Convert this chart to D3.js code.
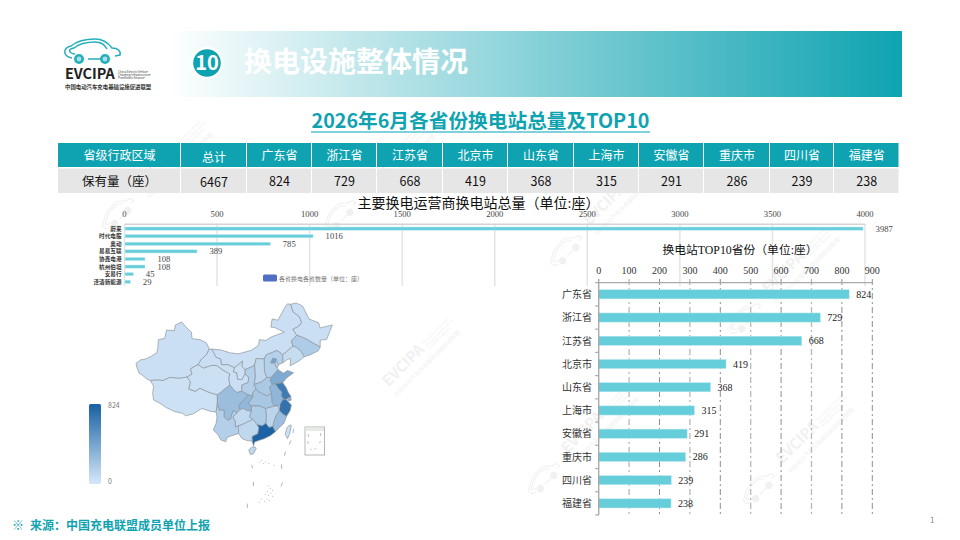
<!DOCTYPE html>
<html lang="zh-CN">
<head>
<meta charset="UTF-8">
<title>换电设施整体情况</title>
<script src="https://d3js.org/d3.v7.min.js"></script>
<style>
  html, body { margin: 0; background: #fff; }
  svg { display: block; }
  text { font-family: "Noto Sans CJK SC", "Noto Sans", sans-serif; }
  .num { font-family: "Liberation Serif", "Noto Sans CJK SC", serif; }
</style>
</head>
<body>
<script>
// 表格
const tableHeads = ["省级行政区域", "总计", "广东省", "浙江省", "江苏省", "北京市", "山东省", "上海市", "安徽省", "重庆市", "四川省", "福建省"];
const tableValues = ["保有量（座）", "6467", "824", "729", "668", "419", "368", "315", "291", "286", "239", "238"];

// 运营商
const operators = ["蔚来", "时代电服", "奥动", "易易互联", "协鑫电港", "杭州伯坦", "安易行", "泽清新能源"];
const operatorValues = [3987, 1016, 785, 389, 108, 108, 45, 29];
const operatorTicks = [0, 500, 1000, 1500, 2000, 2500, 3000, 3500, 4000];

// TOP10
const topProvinces = ["广东省", "浙江省", "江苏省", "北京市", "山东省", "上海市", "安徽省", "重庆市", "四川省", "福建省"];
const topValues = [824, 729, 668, 419, 368, 315, 291, 286, 239, 238];
const topTicks = [0, 100, 200, 300, 400, 500, 600, 700, 800, 900];

// 地图：各省粗略轮廓（经度, 纬度）和数值
const mapNames = ["新疆", "西藏", "青海", "甘肃", "内蒙古", "黑龙江", "吉林", "辽宁", "河北", "北京", "天津", "山西", "陕西", "宁夏", "山东", "河南", "江苏", "安徽", "上海", "浙江", "福建", "江西", "湖北", "湖南", "广东", "广西", "海南", "重庆", "四川", "贵州", "云南", "台湾"];
const mapValues = [25, 15, 20, 25, 25, 25, 150, 40, 120, 419, 90, 70, 130, 20, 368, 170, 668, 291, 315, 729, 238, 90, 180, 150, 824, 70, 70, 286, 239, 60, 130, 10];
const mapShapes = [
  [[73.5,39.5],[75,40.3],[76.5,40.5],[78.5,41.2],[80,42],[80.3,43],[80.5,45],[82.5,45.3],[83,47.2],[85.5,47.1],[85.8,48.4],[87.8,49.1],[89,48],[90.8,46.7],[91,45.2],[93.5,45],[95.5,44.2],[96.4,42.8],[95.5,41.5],[94,40.5],[92.9,39.2],[90.5,38.2],[91,37],[89.5,36.3],[87,36],[84,36.2],[82,35.5],[80.2,35.6],[78,35.5],[77,35.8],[75.5,36.7],[74.5,37.2],[73.8,38.5]],
  [[78,35.5],[80.2,35.6],[82,35.5],[84,36.2],[87,36],[89.5,36.3],[90.5,35.2],[90,33.5],[92,33],[93.5,33.7],[95.5,33],[97.3,32.5],[98.9,32.2],[98.9,30],[98.5,28.2],[97,28.3],[94,29],[91.5,27.8],[89,27.3],[88,27.9],[85.5,28.3],[83,29.2],[81,30.2],[79,31],[78.7,32.5],[79,34.2]],
  [[89.5,36.3],[91,37],[90.5,38.2],[92.9,39.2],[94.5,38.4],[97,39],[98.7,39],[100.5,38],[102.8,37],[102.5,36],[102.8,34.4],[101,33.4],[100,32.7],[98.9,32.2],[97.3,32.5],[95.5,33],[93.5,33.7],[92,33],[90,33.5],[90.5,35.2]],
  [[96.4,42.8],[97.2,42.8],[98.5,40.9],[100,40.5],[100.2,39.2],[102.2,39.2],[104.3,38.5],[103.9,37.5],[105,37.3],[105.2,35.8],[106.5,35.7],[107.5,37],[108.7,36.3],[108.5,35],[106.6,34.5],[106.5,33],[105,32.7],[103.8,33.5],[102.8,34.4],[102.5,36],[102.8,37],[100.5,38],[98.7,39],[97,39],[94.5,38.4],[92.9,39.2],[94,40.5],[95.5,41.5]],
  [[97.2,42.8],[100,42.6],[103,41.9],[105.5,41.7],[109.5,42.5],[111.8,43.7],[112,45],[114,44.8],[116,45.7],[119.8,46.7],[116.8,47.8],[115.6,47.9],[116,49.8],[117.8,49.5],[120,52.5],[120.8,53.3],[121.8,53.2],[122.5,51.5],[124.5,50.3],[125.2,49],[124.5,48.2],[122.5,47.4],[123.7,46],[122,44.7],[122.5,43.5],[120.5,42.2],[119.3,41.5],[117.5,42.5],[116,42],[114.2,41.5],[113.5,40.5],[111,40.6],[110.5,39],[107.5,38],[106.5,38.8],[106.8,40],[104.3,38.5],[102.2,39.2],[100.2,39.2],[100,40.5],[98.5,40.9]],
  [[121.8,53.2],[123.5,53.5],[125.5,52.8],[127.5,49.8],[130.5,48.9],[131,47.7],[134.8,48.4],[133,45],[131,44.9],[131,43.3],[128.5,44.3],[127,45],[125.5,45.5],[123.7,46],[122.5,47.4],[124.5,48.2],[125.2,49],[124.5,50.3],[122.5,51.5]],
  [[123.7,46],[125.5,45.5],[127,45],[128.5,44.3],[131,43.3],[130.4,42.4],[128,41.5],[126,41],[125,42.3],[123.5,43.2],[122.5,43.5],[122,44.7]],
  [[119.3,41.5],[120.5,42.2],[122.5,43.5],[123.5,43.2],[125,42.3],[126,41],[124.3,40],[121.6,38.9],[121.8,40.6],[120.8,40.4],[119.3,39.6]],
  [[113.5,40.5],[114.2,41.5],[116,42],[117.5,42.5],[119.3,41.5],[119.3,39.6],[118,39.2],[117.6,38.6],[117.8,38],[115.7,36.2],[114.3,36.2],[113.6,37.5]],
  [[115.5,39.6],[116.2,40.7],[117.4,40.5],[117,39.7],[116.3,39.5]],
  [[117,39.7],[117.4,40.1],[118,39.2],[117.6,38.6],[117,38.8]],
  [[113.5,40.5],[113.6,37.5],[114.3,36.2],[112.8,35.2],[110.4,34.6],[110.7,36.5],[110.5,39],[111,40.6]],
  [[110.5,39],[110.7,36.5],[110.4,34.6],[111,33.5],[110,32.8],[110,31.8],[108.5,32.2],[106.5,33],[106.6,34.5],[108.5,35],[108.7,36.3],[107.5,37],[107.5,38]],
  [[104.3,38.5],[106.8,40],[106.5,38.8],[107.5,38],[107.5,37],[106.5,35.7],[105.2,35.8],[105,37.3],[103.9,37.5]],
  [[115.7,36.2],[117.8,38],[119,37.5],[119.5,37.2],[120.8,37.8],[122.7,37.3],[120.5,36.1],[119.3,35],[117,34.7],[116,34.6],[115.3,35.5]],
  [[114.3,36.2],[115.7,36.2],[115.3,35.5],[116,34.6],[115.2,33.9],[115.8,32.5],[114.5,31.9],[113,32.4],[111.5,33],[111,33.5],[110.4,34.6],[112.8,35.2]],
  [[117,34.7],[119.3,35],[120.4,33.8],[121,32.8],[121.9,31.7],[120.5,31.1],[119.5,31.2],[118.8,32],[119,32.8],[118,33.6]],
  [[116,34.6],[117,34.7],[118,33.6],[119,32.8],[118.8,32],[119.5,31.2],[118.5,30],[118,29.6],[116.7,29.6],[115.9,30.5],[115.8,32.5],[115.2,33.9]],
  [[120.9,31.6],[121.9,31.5],[121.9,30.9],[121,30.8]],
  [[118.5,30],[119.5,31.2],[120.5,31],[121,30.6],[122,29.8],[121.6,28.5],[120.5,27.2],[119.5,27.6],[118.2,28.5]],
  [[118.2,28.5],[119.5,27.6],[120.5,27.2],[119.7,25.6],[118.2,24.5],[117,23.6],[116.2,24.8],[116.6,26.2],[117.3,27.5]],
  [[113.9,29],[116.7,29.6],[118,29.6],[118.2,28.5],[117.3,27.5],[116.6,26.2],[116.2,24.8],[115,24.6],[114,25.6],[114.2,27.2]],
  [[110,31.8],[110,32.8],[111,33.5],[111.5,33],[113,32.4],[114.5,31.9],[115.8,32.5],[115.9,30.5],[116.7,29.6],[113.9,29],[112,29.6],[109.5,29.6],[108.5,30.2],[109.5,31.2]],
  [[109.5,29.6],[112,29.6],[113.9,29],[114.2,27.2],[114,25.6],[113,25],[111.3,25.2],[110,26.5],[108.9,27],[109.5,28.4]],
  [[110.2,25.7],[111.3,25.2],[113,25],[114,25.6],[115,24.6],[116.2,24.8],[117,23.6],[115.5,22.7],[113.5,22],[111.5,21.5],[110.5,21.2],[110.2,20.3],[109.8,21.4],[109.7,22.5],[111.5,23.2],[111.8,24.6]],
  [[104.5,24.7],[105.5,25],[106.6,25.3],[108,25.8],[110,26.5],[111.3,25.2],[111.8,24.6],[111.5,23.2],[109.7,22.5],[109.8,21.4],[108,21.6],[106.6,22],[105.5,23.2]],
  [[108.7,19.4],[109.2,18.3],[110.2,18.5],[111,19.7],[110.6,20.1],[109.6,20]],
  [[105.5,29.3],[106,30.2],[107,30.8],[108.5,32.2],[110,31.8],[109.5,31.2],[108.5,30.2],[109.5,29.6],[109.5,28.4],[108.2,28.5],[107,29],[106,28.7]],
  [[98.9,32.2],[100,32.7],[101,33.4],[102.8,34.4],[103.8,33.5],[105,32.7],[106.5,33],[108.5,32.2],[107,30.8],[106,30.2],[105.5,29.3],[106,28.7],[105,28],[103.8,28.5],[103,26.5],[102,26.3],[101,27],[101,28.6],[99.5,28.6],[98.9,30]],
  [[103.7,27],[105,28],[106,28.7],[107,29],[108.2,28.5],[109.5,28.4],[108.9,27],[110,26.5],[108,25.8],[106.6,25.3],[105.5,25],[104.5,24.7],[104.5,26]],
  [[98.5,28.2],[98.9,30],[99.5,28.6],[101,28.6],[101,27],[102,26.3],[103,26.5],[103.8,28.5],[105,28],[103.7,27],[104.5,26],[104.5,24.7],[105.5,25],[105.5,23.2],[103.5,22.7],[102,22.3],[101.5,21.3],[100,21.7],[99,23],[97.6,24],[98.5,25.5],[98.8,27]],
  [[121.5,25.2],[122,25],[121.4,23],[120.8,22],[120.1,23],[120.6,24.5]]
];
// 南海断续线和岛礁
const seaDashes = [
  [[109.6,15.9],[109.9,15.1]], [[118.9,16],[119,15]], [[110.2,12],[110.1,11]], [[119.2,11.8],[118.8,10.9]],
  [[108.2,6.9],[108.3,5.9]], [[120.2,19],[119.8,18]], [[121.9,21.6],[121.3,20.6]], [[122.7,24.3],[122.5,23.3]]
];
const seaDots = [[112,16.5],[112.6,17],[113.2,16.3],[114,16.6],[115,16.2],[116.6,15.8],[114.8,11],[115.4,10.5],[116.1,10],[114.5,9.8],[115.6,9.3],[113.9,9],[114.9,8.8],[116.2,8.6],[112,7.2],[112.7,8],[113.6,7.4],[114.4,8],[115.2,7.6]];

const width = 960, height = 540;
const teal = "#0fa3b1", barColor = "#66ceda";
const carD = "M-20,7 C-30,5 -29,-3 -21,-5 C-15,-10 -6,-12 3,-12 C12,-12 17,-7 20,-3 C26,-3 29,0 28,4 L23,5 M-17,3 C-24,2 -24,-2 -18,-3 C-12,-8 -5,-9 3,-9 C9,-9 13,-6 15,-2 M-4,8 H10";

const svg = d3.select("body").append("svg")
  .attr("width", width).attr("height", height)
  .attr("viewBox", [0, 0, width, height]);

const defs = svg.append("defs");
const bandGrad = defs.append("linearGradient").attr("id", "bandGrad");
bandGrad.append("stop").attr("offset", "0").attr("stop-color", "#fff");
bandGrad.append("stop").attr("offset", "1").attr("stop-color", teal);
const legendGrad = defs.append("linearGradient").attr("id", "legendGrad")
  .attr("x1", 0).attr("x2", 0).attr("y1", 0).attr("y2", 1);
legendGrad.append("stop").attr("offset", "0").attr("stop-color", "#1c63a6");
legendGrad.append("stop").attr("offset", "1").attr("stop-color", "#d2e5f6");

// 水印
const wmColor = "#f1f1f1";
function watermark(x, y) {
  const g = svg.append("g").attr("transform", `translate(${x},${y}) rotate(-45)`).attr("fill", wmColor);
  g.append("text").attr("text-anchor", "middle").attr("y", 5.5).attr("font-size", 15).attr("font-weight", 700).text("EVCIPA");
  g.append("text").attr("text-anchor", "middle").attr("x", 18).attr("y", 18).attr("font-size", 5.7).text("中国电动汽车充电基础设施促进联盟");
  ["China Electric Vehicle", "Charging Infrastructure", "Promotion Alliance"].forEach((t, i) => {
    g.append("text").attr("x", 29).attr("y", 0 + i * 4).attr("font-size", 3.5).text(t);
  });
  const car = g.append("g").attr("transform", "translate(-60,5) scale(0.72)");
  car.append("path").attr("d", carD).attr("fill", "none").attr("stroke", wmColor).attr("stroke-width", 1.6);
  car.append("circle").attr("cx", -13).attr("cy", 8).attr("r", 5).attr("fill", wmColor);
  car.append("circle").attr("cx", 13).attr("cy", 8).attr("r", 5).attr("fill", wmColor);
}
[[156, 167], [378, 169], [604, 204], [403, 365], [783, 272], [582, 432], [797, 442]].forEach(p => watermark(p[0], p[1]));
// 地图图片自带白底，盖住下面的水印
svg.append("rect").attr("x", 60).attr("y", 290).attr("width", 321).attr("height", 222).attr("fill", "#fff");

// 页眉
svg.append("rect").attr("x", 168).attr("y", 31).attr("width", 734).attr("height", 66).attr("fill", "url(#bandGrad)");
svg.append("circle").attr("cx", 207).attr("cy", 63).attr("r", 15).attr("fill", teal).attr("stroke", "#fff").attr("stroke-width", 2.4);
svg.append("text").attr("x", 207).attr("y", 70).attr("text-anchor", "middle").attr("fill", "#fff")
  .attr("font-size", 20).attr("font-weight", 700).text("10");
svg.append("text").attr("x", 244).attr("y", 71.5).attr("fill", "#fff")
  .attr("font-size", 28).attr("font-weight", 700).text("换电设施整体情况");

// 标志
const logo = svg.append("g");
const logoCar = logo.append("g").attr("transform", "translate(92,51)");
logoCar.append("path").attr("d", carD).attr("fill", "none").attr("stroke", "#25aebb").attr("stroke-width", 1.5);
[-13, 13].forEach(cx => {
  logoCar.append("circle").attr("cx", cx).attr("cy", 8).attr("r", 5).attr("fill", "#25aebb");
  logoCar.append("circle").attr("cx", cx).attr("cy", 8).attr("r", 2.4).attr("fill", "#a8e0e6");
});
logo.append("text").attr("x", 65).attr("y", 79).attr("font-size", 14.4).attr("font-weight", 700).attr("fill", "#222").text("EVCIPA");
["China Electric Vehicle", "Charging Infrastructure", "Promotion Alliance"].forEach((t, i) => {
  logo.append("text").attr("x", 118).attr("y", 72.5 + i * 3.2).attr("font-size", 3).attr("fill", "#444").text(t);
});
logo.append("text").attr("x", 65).attr("y", 89).attr("font-size", 5.4).attr("font-weight", 700).attr("fill", "#333")
  .text("中国电动汽车充电基础设施促进联盟");

// 副标题
svg.append("text").attr("x", 480.5).attr("y", 128).attr("text-anchor", "middle").attr("fill", teal)
  .attr("font-size", 19.7).attr("font-weight", 700).text("2026年6月各省份换电站总量及TOP10");
svg.append("rect").attr("x", 311).attr("y", 131).attr("width", 339).attr("height", 2).attr("fill", "#7fd2dc");

// 表格
const colEdges = [58, 181, 247, 312, 377, 443, 508, 574, 639, 704, 770, 834, 899.5];
const table = svg.append("g");
tableHeads.forEach((t, i) => {
  const x0 = colEdges[i], x1 = colEdges[i + 1], mid = (x0 + x1) / 2;
  table.append("rect").attr("x", x0).attr("y", 143).attr("width", x1 - x0 - 1).attr("height", 24).attr("fill", teal);
  table.append("rect").attr("x", x0).attr("y", 168.5).attr("width", x1 - x0 - 1).attr("height", 24.5).attr("fill", "#e6e6e6");
  table.append("text").attr("x", mid).attr("y", i === 1 ? 162 : 160).attr("text-anchor", "middle")
    .attr("fill", "#fff").attr("font-size", 12).text(t);
  table.append("text").attr("x", mid).attr("y", i === 1 ? 187 : 186).attr("text-anchor", "middle")
    .attr("fill", "#111").attr("font-size", 12.5).text(tableValues[i]);
});

// 运营商条形图
const opX = d3.scaleLinear().domain([0, 4000]).range([124.5, 865]);
const opY = d3.scaleBand().domain(operators).range([224.8, 285.6]);
const opChart = svg.append("g");
opChart.append("g").selectAll("line").data(operatorTicks).enter().append("line")
  .attr("x1", d => opX(d)).attr("x2", d => opX(d))
  .attr("y1", 224).attr("y2", 286)
  .attr("stroke", "#e2e2e2").attr("stroke-width", 1.4);
opChart.append("line").attr("x1", opX(0)).attr("x2", opX(4000)).attr("y1", 224.3).attr("y2", 224.3)
  .attr("stroke", "#d4d4d4").attr("stroke-width", 1.4);
opChart.append("text").attr("class", "num").attr("x", 478.5).attr("y", 207.5).attr("text-anchor", "middle")
  .attr("font-size", 14).attr("fill", "#111").text("主要换电运营商换电站总量（单位:座）");
opChart.append("g").selectAll("text").data(operatorTicks).enter().append("text")
  .attr("class", "num")
  .attr("x", d => opX(d)).attr("y", 216.5).attr("text-anchor", "middle")
  .attr("font-size", 8.6).attr("fill", "#444").text(d => d);
opChart.append("g").selectAll("rect").data(operatorValues).enter().append("rect")
  .attr("x", opX(0) + 0.5).attr("y", (d, i) => opY(operators[i]) + opY.bandwidth() / 2 - 1.6)
  .attr("width", d => opX(d) - opX(0)).attr("height", 3.2)
  .attr("fill", barColor).attr("stroke", "#c2ecf1").attr("stroke-width", 0.5);
opChart.append("g").selectAll("text").data(operatorValues).enter().append("text")
  .attr("class", "num")
  .attr("x", d => opX(d) + 13).attr("y", (d, i) => opY(operators[i]) + opY.bandwidth() / 2 + 3)
  .attr("font-size", 8.6).attr("fill", "#444").text(d => d);
opChart.append("g").selectAll("text").data(operators).enter().append("text")
  .attr("x", 121.5).attr("y", d => opY(d) + opY.bandwidth() / 2 + 2)
  .attr("text-anchor", "end").attr("font-size", 5.6).attr("font-weight", 700).attr("fill", "#333").text(d => d);
opChart.append("rect").attr("x", 263).attr("y", 274.5).attr("width", 14).attr("height", 7).attr("rx", 1.5).attr("fill", "#4f6fc4");
opChart.append("text").attr("x", 279).attr("y", 280.5).attr("font-size", 6).attr("fill", "#777").text("各省换电各省数量（单位：座）");

// 地图
const lonX = d3.scaleLinear().domain([73.5, 135]).range([136, 333]);
const latY = d3.scaleLinear().domain([53.5, 18.2]).range([303, 455]);
const mapColor = d3.scaleLinear().domain([0, 824]).range(["#cfe3f5", "#1c63a6"]);
const ring = d3.line().x(d => lonX(d[0])).y(d => latY(d[1])).curve(d3.curveLinearClosed);
const dashLine = d3.line().x(d => lonX(d[0])).y(d => latY(d[1]));
const map = svg.append("g");
map.selectAll("path.prov").data(mapShapes).enter().append("path")
  .attr("class", "prov")
  .attr("d", ring)
  .attr("fill", (d, i) => mapColor(mapValues[i]))
  .attr("stroke", "#8e959b").attr("stroke-width", 0.7).attr("stroke-linejoin", "round");
map.append("g").selectAll("path").data(seaDashes).enter().append("path")
  .attr("d", dashLine).attr("fill", "none").attr("stroke", "#8e959b").attr("stroke-width", 0.7);
map.append("g").selectAll("circle").data(seaDots).enter().append("circle")
  .attr("cx", d => lonX(d[0])).attr("cy", d => latY(d[1])).attr("r", 0.5).attr("fill", "#aaa");
// 南海小图
map.append("rect").attr("x", 305).attr("y", 427).attr("width", 19.5).attr("height", 28)
  .attr("fill", "#fff").attr("stroke", "#b5b5b5").attr("stroke-width", 1);
map.append("rect").attr("x", 305.5).attr("y", 427.5).attr("width", 18.5).attr("height", 3.5).attr("fill", "#e6ebe6");
map.append("path").attr("d", "M308.5,434v3 M308,441v3 M310,449l1.5,1 M320.5,433v3 M320.5,441l-1,2 M316,448l-1.5,1.5")
  .attr("stroke", "#999").attr("stroke-width", 0.6).attr("fill", "none");

// 图例
svg.append("rect").attr("x", 89).attr("y", 406).attr("width", 12).attr("height", 76).attr("fill", "url(#legendGrad)");
svg.append("rect").attr("x", 89).attr("y", 404).attr("width", 12).attr("height", 3).attr("rx", 1.5).attr("fill", "#1c63a6");
svg.append("rect").attr("x", 89).attr("y", 481).attr("width", 12).attr("height", 3).attr("rx", 1.5).attr("fill", "#d2e5f6");
svg.append("text").attr("x", 108).attr("y", 408).attr("font-size", 7).attr("fill", "#777").text(d3.max(topValues));
svg.append("text").attr("x", 108).attr("y", 484).attr("font-size", 7).attr("fill", "#777").text("0");

// TOP10 条形图
const topX = d3.scaleLinear().domain([0, 900]).range([598.7, 872.3]);
const topY = d3.scaleBand().domain(topProvinces).range([282.7, 515]);
const topChart = svg.append("g");
topChart.append("text").attr("class", "num").attr("x", 740).attr("y", 254).attr("text-anchor", "middle")
  .attr("font-size", 11.8).attr("fill", "#111").text("换电站TOP10省份（单位:座）");
// 网格线一深一浅
topChart.append("g").selectAll("line").data(topTicks.slice(1)).enter().append("line")
  .attr("x1", d => topX(d)).attr("x2", d => topX(d)).attr("y1", 279).attr("y2", 515)
  .attr("stroke", d => (d % 200 === 100 && d < 900) ? "#b8b8b8" : "#707070")
  .attr("stroke-width", d => (d % 200 === 100 && d < 900) ? 1.3 : 0.8)
  .attr("stroke-dasharray", "6 3 2 3");
topChart.append("g").selectAll("rect").data(topValues).enter().append("rect")
  .attr("x", topX(0)).attr("y", (d, i) => topY(topProvinces[i]) + topY.bandwidth() / 2 - 4.6)
  .attr("width", d => topX(d) - topX(0)).attr("height", 9.2)
  .attr("fill", barColor).attr("stroke", "#c2ecf1").attr("stroke-width", 0.5);
topChart.append("g").call(g => {
  g.append("line").attr("x1", topX(0)).attr("x2", topX(900)).attr("y1", 282.7).attr("y2", 282.7).attr("stroke", "#aaa").attr("stroke-width", 1.2);
  g.append("line").attr("x1", topX(0)).attr("x2", topX(0)).attr("y1", 279).attr("y2", 515).attr("stroke", "#aaa").attr("stroke-width", 1.4);
  g.selectAll(".tick").data(topY.domain().map(d => topY(d)).concat(515)).enter().append("line").attr("class", "tick")
    .attr("x1", topX(0) - 3.5).attr("x2", topX(0)).attr("y1", d => d).attr("y2", d => d)
    .attr("stroke", "#aaa").attr("stroke-width", 1.2);
});
topChart.append("g").selectAll("text").data(topTicks).enter().append("text")
  .attr("class", "num")
  .attr("x", d => topX(d)).attr("y", 274).attr("text-anchor", "middle")
  .attr("font-size", 10).attr("fill", "#333").text(d => d);
topChart.append("g").selectAll("text").data(topValues).enter().append("text")
  .attr("class", "num")
  .attr("x", d => topX(d) + 7).attr("y", (d, i) => topY(topProvinces[i]) + topY.bandwidth() / 2 + 3.5)
  .attr("font-size", 10).attr("fill", "#222").text(d => d);
topChart.append("g").selectAll("text").data(topProvinces).enter().append("text")
  .attr("x", 592).attr("y", d => topY(d) + topY.bandwidth() / 2 + 3.8)
  .attr("text-anchor", "end").attr("font-size", 10).attr("fill", "#333").text(d => d);

// 页脚
svg.append("text").attr("x", 12).attr("y", 530).attr("font-size", 12).attr("font-weight", 700).attr("fill", teal).text("※");
svg.append("text").attr("x", 30).attr("y", 530).attr("font-size", 12).attr("font-weight", 700).attr("fill", teal)
  .text("来源：中国充电联盟成员单位上报");
svg.append("text").attr("x", 930).attr("y", 523).attr("font-size", 8).attr("fill", "#888").text("1");
</script>
</body>
</html>
